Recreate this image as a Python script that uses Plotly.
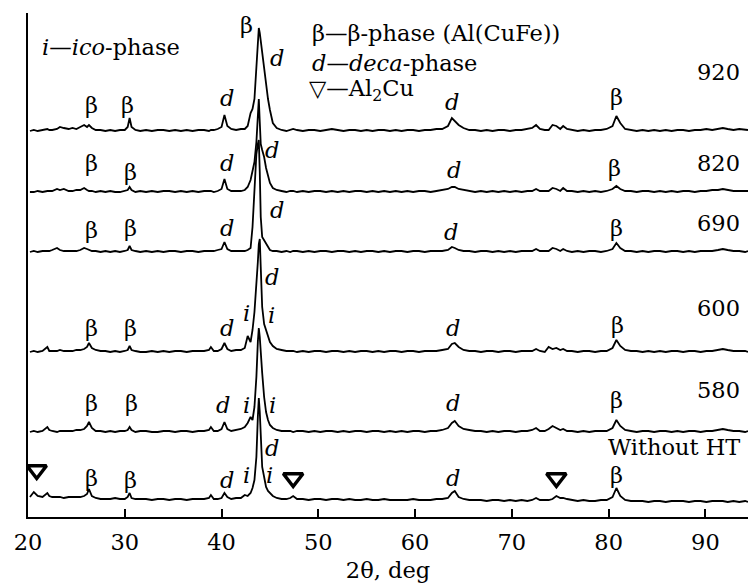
import plotly.graph_objects as go

# 2-theta grid (deg)
two_theta = [
    20.2, 20.6, 21.0, 21.5, 22.0, 22.2, 22.5, 23.0, 23.3, 23.7,
    24.2, 24.6, 25.0, 25.4, 25.8, 26.1, 26.3, 26.6, 27.0, 27.5,
    28.0, 28.5, 29.0, 29.5, 30.0, 30.3, 30.5, 30.7, 31.1, 31.6,
    32.2, 32.8, 33.4, 34.0, 34.6, 35.2, 35.8, 36.4, 37.0, 37.6,
    38.2, 38.7, 38.9, 39.2, 39.6, 40.0, 40.3, 40.6, 41.0, 41.5,
    42.0, 42.4, 42.7, 43.0, 43.2, 43.4, 43.6, 43.75, 43.85, 43.95,
    44.05, 44.2, 44.4, 44.6, 44.8, 45.0, 45.3, 45.7, 46.2, 46.7,
    47.1, 47.4, 47.8, 48.4, 49.0, 49.6, 50.2, 50.8, 51.4, 52.0,
    52.6, 53.2, 53.8, 54.4, 55.0, 55.6, 56.2, 56.8, 57.4, 58.0,
    58.6, 59.2, 59.8, 60.4, 61.0, 61.6, 62.2, 62.8, 63.4, 63.8,
    64.1, 64.5, 65.0, 65.6, 66.2, 66.8, 67.4, 68.0, 68.6, 69.2,
    69.8, 70.4, 71.0, 71.6, 72.1, 72.5, 72.9, 73.4, 73.8, 74.2,
    74.6, 75.0, 75.3, 75.7, 76.2, 76.8, 77.4, 78.0, 78.6, 79.2,
    79.8, 80.4, 80.8, 81.2, 81.7, 82.3, 82.9, 83.5, 84.1, 84.7,
    85.3, 85.9, 86.5, 87.1, 87.7, 88.3, 88.9, 89.5, 90.1, 90.7,
    91.3, 91.8, 92.3, 92.9, 93.5, 94.1, 94.4,
]

# intensities (arb. units)
I_920 = [
    0, 1, 0, 1, 2, 1, 1, 2, 4, 3,
    2, 3, 2, 4, 6, 4, 6, 3, 1, 1,
    0, 1, 0, 1, 1, 4, 13, 4, 1, 0,
    1, 0, 1, 1, 0, 1, 0, 1, 0, 1,
    1, 0, 1, 1, 2, 4, 16, 5, 2, 1,
    2, 2, 5, 18, 22, 32, 62, 90, 103, 98,
    90, 80, 60, 45, 32, 21, 8, 3, 1, 0,
    1, 2, 1, 0, 1, 1, 0, 1, 2, 1,
    0, 1, 1, 0, 1, 0, 1, 1, 0, 1,
    0, 1, 1, 0, 1, 1, 2, 2, 5, 13,
    10, 6, 3, 1, 1, 0, 1, 0, 1, 1,
    0, 1, 1, 2, 3, 6, 2, 1, 1, 6,
    5, 2, 5, 2, 1, 0, 1, 0, 1, 1,
    2, 5, 15, 8, 2, 1, 0, 1, 0, 1,
    0, 1, 0, 1, 1, 0, 1, 1, 2, 1,
    2, 3, 2, 1, 2, 1, 1,
]
I_820 = [
    0, 0, 1, 0, 1, 1, 1, 3, 2, 3,
    1, 1, 2, 2, 4, 2, 1, 1, 0, 1,
    0, 1, 0, 0, 1, 2, 5, 2, 0, 1,
    0, 1, 0, 1, 1, 0, 1, 0, 1, 0,
    1, 1, 1, 0, 1, 3, 13, 3, 1, 1,
    1, 2, 5, 12, 20, 30, 50, 80, 93, 70,
    48, 42, 35, 24, 15, 9, 4, 2, 1, 0,
    1, 1, 0, 1, 0, 1, 1, 0, 1, 0,
    1, 0, 1, 1, 0, 1, 0, 1, 0, 1,
    0, 1, 0, 1, 1, 0, 1, 2, 3, 5,
    5, 3, 2, 1, 0, 1, 0, 1, 0, 1,
    0, 1, 0, 1, 1, 3, 1, 1, 1, 4,
    3, 1, 4, 1, 1, 0, 1, 0, 1, 0,
    1, 3, 6, 3, 1, 1, 0, 1, 1, 0,
    1, 0, 1, 0, 1, 1, 0, 1, 1, 2,
    2, 3, 2, 1, 1, 1, 1,
]
I_690 = [
    0, 1, 0, 1, 1, 1, 2, 4, 2, 1,
    1, 1, 1, 2, 4, 3, 2, 1, 1, 0,
    1, 0, 1, 0, 1, 2, 6, 2, 1, 0,
    1, 0, 1, 0, 1, 1, 0, 1, 1, 0,
    1, 1, 1, 1, 2, 3, 10, 3, 1, 1,
    1, 1, 2, 4, 25, 70, 98, 108, 112, 80,
    35, 15, 12, 9, 5, 2, 1, 1, 0, 1,
    0, 1, 1, 0, 1, 0, 1, 1, 0, 1,
    1, 0, 1, 0, 1, 1, 0, 1, 0, 1,
    1, 0, 1, 1, 0, 1, 1, 1, 2, 5,
    4, 2, 1, 1, 0, 1, 1, 0, 1, 0,
    1, 0, 1, 1, 1, 3, 1, 1, 1, 4,
    3, 1, 3, 1, 0, 1, 0, 1, 1, 0,
    1, 3, 9, 4, 1, 1, 0, 1, 0, 1,
    1, 0, 1, 1, 0, 1, 0, 1, 1, 1,
    2, 3, 2, 1, 1, 0, 1,
]
I_600 = [
    0, 1, 0, 1, 5, 1, 1, 1, 2, 1,
    1, 1, 2, 2, 3, 5, 9, 4, 2, 1,
    1, 0, 1, 0, 1, 2, 6, 2, 1, 0,
    0, 1, 0, 1, 0, 1, 1, 0, 1, 1,
    1, 2, 5, 1, 1, 3, 9, 3, 1, 2,
    2, 4, 16, 10, 22, 40, 65, 90, 108, 113,
    85, 45, 28, 22, 16, 10, 6, 3, 2, 1,
    1, 1, 0, 1, 0, 1, 1, 0, 1, 1,
    0, 1, 0, 1, 1, 0, 1, 0, 1, 1,
    0, 1, 1, 0, 1, 1, 1, 2, 3, 8,
    9, 5, 2, 1, 1, 0, 1, 1, 0, 1,
    1, 0, 1, 1, 1, 3, 1, 0, 5, 3,
    4, 2, 3, 1, 1, 0, 1, 1, 0, 1,
    1, 4, 12, 6, 2, 1, 1, 0, 1, 0,
    1, 0, 1, 1, 0, 1, 1, 0, 1, 1,
    2, 3, 2, 1, 1, 1, 0,
]
I_580 = [
    0, 1, 0, 1, 5, 2, 1, 0, 1, 1,
    1, 1, 2, 2, 3, 6, 10, 4, 1, 1,
    0, 1, 0, 1, 1, 2, 5, 2, 0, 1,
    1, 0, 0, 1, 1, 0, 1, 1, 0, 1,
    1, 2, 5, 1, 1, 3, 10, 3, 1, 2,
    3, 5, 9, 15, 12, 25, 55, 90, 104, 95,
    75, 59, 35, 20, 12, 7, 4, 2, 1, 1,
    1, 0, 1, 1, 0, 1, 0, 1, 1, 0,
    1, 0, 1, 1, 0, 1, 1, 0, 1, 0,
    1, 0, 1, 1, 0, 1, 1, 2, 4, 9,
    11, 6, 3, 2, 1, 1, 0, 1, 0, 1,
    1, 0, 1, 1, 2, 4, 1, 1, 3, 6,
    4, 2, 3, 1, 1, 0, 1, 0, 1, 1,
    1, 4, 12, 6, 2, 1, 0, 1, 1, 0,
    1, 1, 0, 1, 0, 1, 1, 0, 1, 1,
    2, 3, 2, 1, 1, 0, 1,
]
I_noHT = [
    5, 10, 6, 5, 9, 6, 5, 5, 5, 4,
    5, 5, 5, 5, 6, 8, 13, 6, 4, 3,
    3, 3, 4, 3, 3, 5, 9, 4, 3, 3,
    3, 2, 3, 3, 2, 3, 3, 2, 3, 3,
    3, 4, 7, 3, 3, 4, 9, 5, 3, 4,
    4, 7, 6, 9, 14, 22, 45, 85, 104, 90,
    60, 35, 25, 15, 11, 9, 6, 4, 3, 3,
    4, 6, 3, 3, 2, 3, 3, 2, 3, 3,
    2, 3, 2, 2, 3, 2, 2, 3, 2, 2,
    2, 2, 3, 2, 2, 2, 3, 3, 4, 9,
    11, 5, 3, 2, 2, 2, 1, 2, 2, 1,
    2, 1, 2, 1, 2, 4, 2, 2, 2, 3,
    6, 4, 4, 3, 2, 1, 2, 1, 1, 2,
    2, 5, 14, 6, 2, 1, 1, 1, 0, 1,
    1, 0, 1, 1, 1, 0, 1, 1, 0, 1,
    1, 1, 0, 1, 0, 1, 0,
]

samples = ["920", "820", "690", "600", "580", "Without HT"]
patterns = [I_920, I_820, I_690, I_600, I_580, I_noHT]
offsets = [386, 325, 265, 165, 85, 15]

# Al2Cu reflections marked on the as-cast pattern
al2cu_2theta = [20.9, 47.4, 74.6]

FONT = "DejaVu Serif"
FS = 22.5

fig = go.Figure()
for name, vals, off in zip(samples, patterns, offsets):
    fig.add_trace(go.Scatter(
        x=two_theta, y=[v + off for v in vals], mode="lines", name=name,
        line=dict(color="black", width=1.8), hoverinfo="skip"))

fig.add_trace(go.Scatter(
    x=al2cu_2theta, y=[47, 39, 39], mode="markers",
    marker=dict(symbol="triangle-down-open", size=17,
                line=dict(color="black", width=3.5), color="black"),
    hoverinfo="skip"))

B, D, I = "β", "<i>d</i>", "<i>i</i>"
labels = [
    # 920
    (B, 26.6, 412), (B, 30.3, 412), (D, 40.6, 419), (B, 42.6, 492),
    (D, 45.7, 459), (D, 63.8, 415), (B, 80.8, 420),
    # 820
    (B, 26.6, 354), (B, 30.6, 345), (D, 40.6, 354), (D, 45.2, 367),
    (D, 64.0, 347), (B, 80.6, 349),
    # 690
    (B, 26.6, 287), (B, 30.6, 289), (D, 40.6, 289), (D, 45.7, 307),
    (D, 63.7, 285), (B, 80.8, 289),
    # 600
    (D, 45.2, 240), (I, 42.6, 204), (I, 45.2, 202), (B, 26.6, 189),
    (B, 30.6, 189), (D, 40.6, 189), (D, 63.9, 189), (B, 80.9, 192),
    # 580
    (B, 26.6, 114), (B, 30.7, 114), (D, 40.1, 112), (I, 42.6, 112),
    (I, 45.3, 112), (D, 63.9, 114), (B, 80.8, 117),
    # without HT
    (B, 26.6, 39), (B, 30.6, 37), (D, 40.6, 37), (I, 42.6, 42),
    (D, 45.2, 69), (I, 45.0, 42), (D, 63.9, 39), (B, 80.8, 42),
]
ann = []
for t, x, y in labels:
    ann.append(dict(x=x, y=y, xref="x", yref="y", text=t, showarrow=False,
                    font=dict(family=FONT, size=FS, color="black"),
                    xanchor="center", yanchor="middle"))

sample_y = [445, 354, 294, 209, 127, 70]
for name, y in zip(samples, sample_y):
    ann.append(dict(x=93.8, y=y, xref="x", yref="y", text=name, showarrow=False,
                    font=dict(family=FONT, size=FS, color="black"),
                    xanchor="right", yanchor="middle"))

legend_lines = [
    ("<i>i</i>—<i>ico</i>-phase", 21.25, 470),
    ("β—β-phase (Al(CuFe))", 49.15, 484),
    ("<i>d</i>—<i>deca</i>-phase", 49.15, 454),
    ("▽—Al<sub>2</sub>Cu", 48.85, 427),
]
for t, x, y in legend_lines:
    ann.append(dict(x=x, y=y, xref="x", yref="y", text=t, showarrow=False,
                    font=dict(family=FONT, size=FS, color="black"),
                    xanchor="left", yanchor="middle"))

fig.update_layout(
    width=748, height=584,
    margin=dict(l=28, r=0, t=13, b=67),
    plot_bgcolor="white", paper_bgcolor="white",
    showlegend=False,
    annotations=ann,
    font=dict(family=FONT, size=FS, color="black"),
    xaxis=dict(range=[20, 94.4], tickvals=[20, 30, 40, 50, 60, 70, 80, 90],
               ticks="inside", ticklen=8, tickwidth=1.5, tickcolor="black",
               showline=True, linecolor="black", linewidth=1.5,
               showgrid=False, zeroline=False, ticklabelstandoff=4,
               tickfont=dict(family=FONT, size=FS, color="black"),
               title=dict(text="2θ, deg", standoff=8,
                          font=dict(family=FONT, size=FS, color="black"))),
    yaxis=dict(range=[0, 504], showline=True, linecolor="black", linewidth=1.5,
               showticklabels=False, ticks="", showgrid=False, zeroline=False),
)

fig.write_html("out.html")
